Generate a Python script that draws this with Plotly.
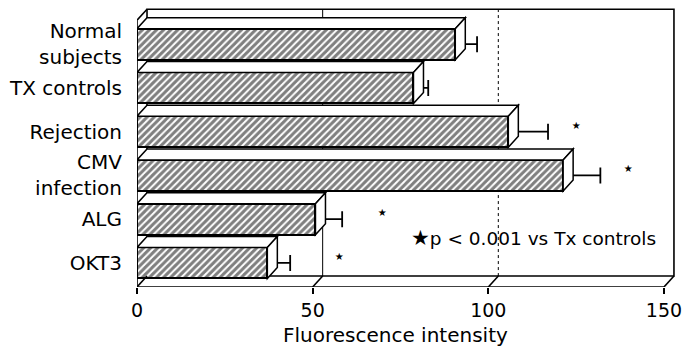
import plotly.graph_objects as go

categories = ["Normal<br>subjects", "TX controls", "Rejection", "CMV<br>infection", "ALG", "OKT3"]
values = [90.6, 78.7, 105.7, 121.3, 50.8, 37.1]
errors = [6.2, 4.2, 11.3, 10.6, 7.6, 6.5]
sig_x = [None, None, 125.0, 139.8, 69.8, 57.6]
x_ticks = [0, 50, 100, 150]
legend_text = "p < 0.001 vs Tx controls"
x_title = "Fluorescence intensity"

FONT = "DejaVu Sans"
pos = list(range(len(categories)))
half = 0.355            # half bar thickness (category units)
dx, dy = 2.85, 0.25     # depth offset for the pseudo-3D look
y_floor, y_top = 5.55, -0.55
x_max = 150

fig = go.Figure()
fig.add_trace(go.Bar(
    x=values, y=pos, orientation="h", width=2 * half,
    marker=dict(color="white", line=dict(color="black", width=2),
                pattern=dict(shape="/", fgcolor="black", bgcolor="white", size=5, solidity=0.6)),
    error_x=dict(type="data", array=errors, arrayminus=[0] * len(errors), symmetric=False,
                 color="black", thickness=1.8, width=8),
    showlegend=False, hoverinfo="skip"))

sx = [v for v in sig_x if v is not None]
sy = [p - 0.13 for p, v in zip(pos, sig_x) if v is not None]
fig.add_trace(go.Scatter(x=sx, y=sy, mode="text", text=["★"] * len(sx),
                         textfont=dict(size=10, color="black"), showlegend=False, hoverinfo="skip"))

shapes = []
line = dict(color="black", width=1.6)
# back plane and floor
shapes.append(dict(type="path", layer="below", line=line, fillcolor="white",
                   path=f"M {dx},{y_top-dy} L {x_max+dx},{y_top-dy} L {x_max+dx},{y_floor-dy} L {dx},{y_floor-dy} Z"))
shapes.append(dict(type="line", layer="below", x0=50 + dx, x1=50 + dx, y0=y_floor - dy, y1=y_top - dy,
                   line=dict(color="black", width=1)))
shapes.append(dict(type="line", layer="below", x0=100 + dx, x1=100 + dx, y0=y_floor - dy, y1=y_top - dy,
                   line=dict(color="black", width=1, dash="dot")))
# front floor edge and connectors
shapes.append(dict(type="line", layer="above", x0=0, x1=x_max, y0=y_floor, y1=y_floor, line=line))
for t in x_ticks:
    shapes.append(dict(type="line", layer="above", x0=t, x1=t + dx, y0=y_floor, y1=y_floor - dy, line=line))
# left front edge and top-left connector
shapes.append(dict(type="line", layer="above", x0=0, x1=0, y0=y_floor, y1=y_top, line=line))
shapes.append(dict(type="line", layer="above", x0=0, x1=dx, y0=y_top, y1=y_top - dy, line=line))
# bar top and side faces
for p, v in zip(pos, values):
    t, b = p - half, p + half
    shapes.append(dict(type="path", layer="above", line=dict(color="black", width=1.5), fillcolor="white",
                       path=f"M 0,{t} L {dx},{t-dy} L {v+dx},{t-dy} L {v},{t} Z"))
    shapes.append(dict(type="path", layer="above", line=dict(color="black", width=1.5), fillcolor="white",
                       path=f"M {v},{t} L {v+dx},{t-dy} L {v+dx},{b-dy} L {v},{b} Z"))
    shapes.append(dict(type="line", layer="above", x0=-0.9, x1=0, y0=t - dy, y1=t - dy,
                       line=dict(color="black", width=1.2)))

annotations = [
    dict(x=77.3, y=4.42, xref="x", yref="y", xanchor="left", yanchor="middle", showarrow=False,
         text="<span style='font-size:21px'>★</span>" + legend_text,
         font=dict(family=FONT, size=18.5, color="black")),
    dict(x=73.7, y=-0.171, xref="x", yref="paper", xanchor="center", yanchor="middle", showarrow=False,
         text=x_title, font=dict(family=FONT, size=20, color="black")),
]

fig.update_layout(
    width=689, height=349, margin=dict(l=137, r=11, t=7, b=62),
    paper_bgcolor="white", plot_bgcolor="white",
    shapes=shapes, annotations=annotations, bargap=0,
    font=dict(family=FONT, color="black"),
    xaxis=dict(range=[0, 154], tickvals=x_ticks, ticktext=[str(t) for t in x_ticks],
               showgrid=False, zeroline=False, showline=False, ticks="outside", ticklen=6,
               tickcolor="black", tickwidth=1.5, tickfont=dict(size=19, family=FONT)),
    yaxis=dict(range=[y_floor, -0.85], tickvals=pos, ticktext=categories, showgrid=False,
               zeroline=False, showline=False, ticks="", ticklabelstandoff=14,
               tickfont=dict(size=20, family=FONT)),
)
fig.write_html("out.html")
